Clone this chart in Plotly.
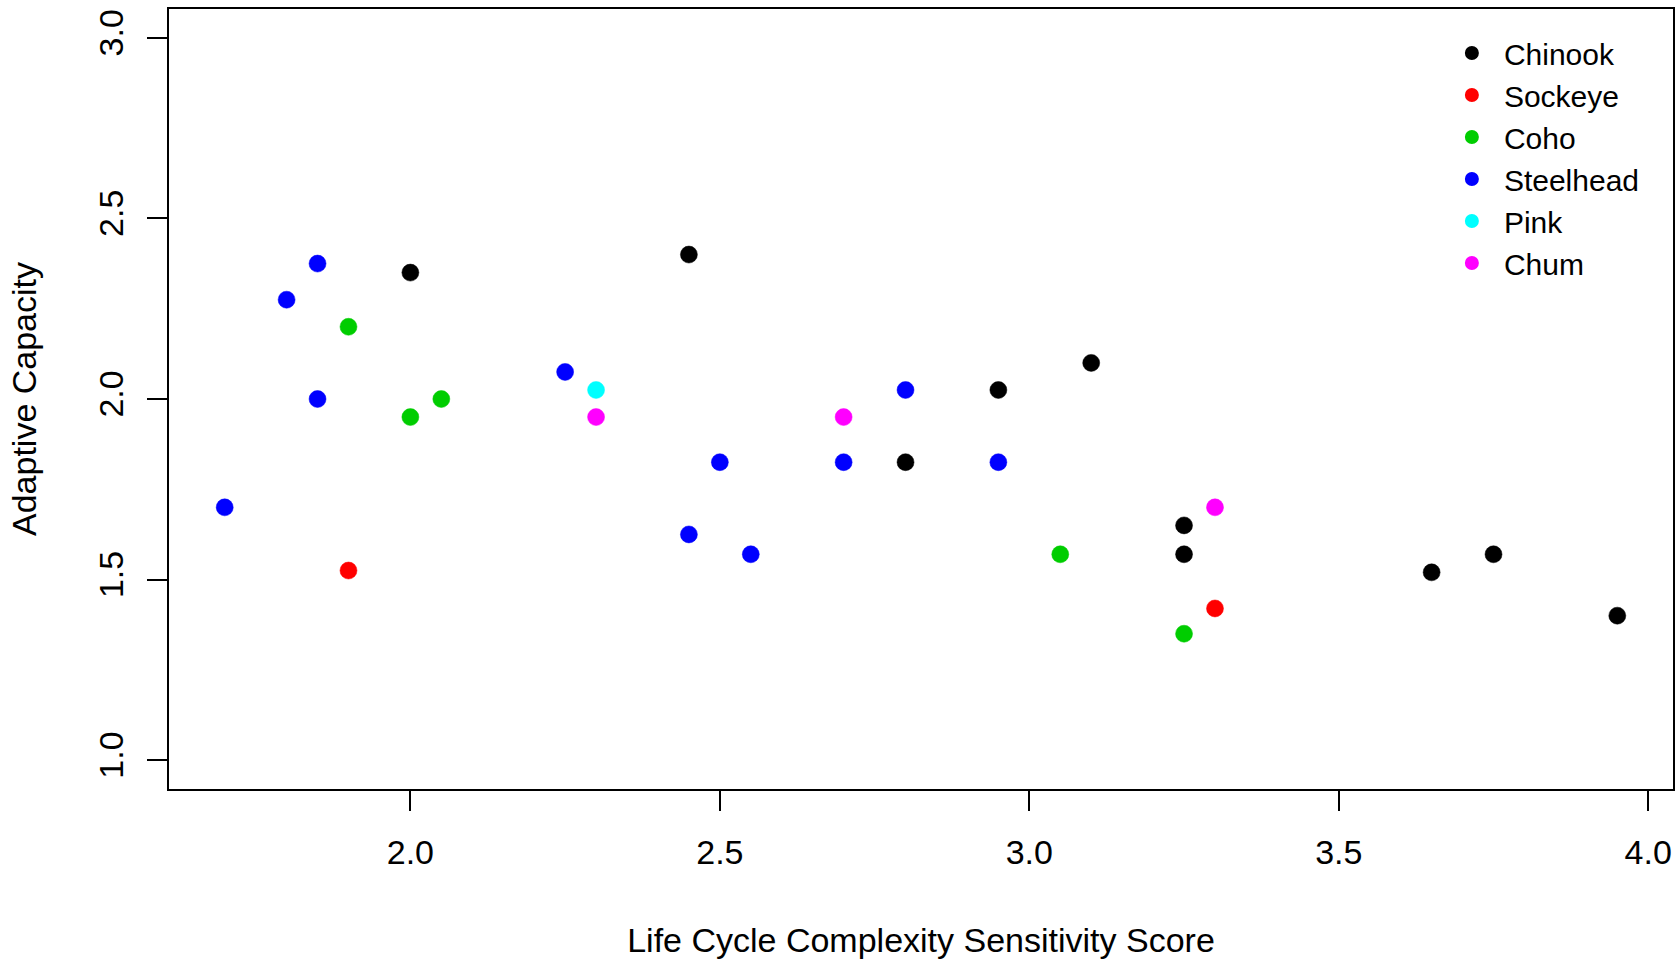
import plotly.graph_objects as go

species = ["Chinook", "Sockeye", "Coho", "Steelhead", "Pink", "Chum"]
colors = ["#000000", "#FF0000", "#00CD00", "#0000FF", "#00FFFF", "#FF00FF"]

chinook_x = [2.00, 2.45, 2.80, 2.95, 3.10, 3.25, 3.25, 3.65, 3.75, 3.95]
chinook_y = [2.35, 2.40, 1.825, 2.025, 2.10, 1.65, 1.57, 1.52, 1.57, 1.40]
sockeye_x = [1.90, 3.30]
sockeye_y = [1.525, 1.42]
coho_x = [1.90, 2.00, 2.05, 3.05, 3.25]
coho_y = [2.20, 1.95, 2.00, 1.57, 1.35]
steelhead_x = [1.70, 1.80, 1.85, 1.85, 2.25, 2.45, 2.50, 2.55, 2.70, 2.80, 2.95]
steelhead_y = [1.70, 2.275, 2.375, 2.00, 2.075, 1.625, 1.825, 1.57, 1.825, 2.025, 1.825]
pink_x = [2.30]
pink_y = [2.025]
chum_x = [2.30, 2.70, 3.30]
chum_y = [1.95, 1.95, 1.70]

xs = [chinook_x, sockeye_x, coho_x, steelhead_x, pink_x, chum_x]
ys = [chinook_y, sockeye_y, coho_y, steelhead_y, pink_y, chum_y]

x_ticks = [2.0, 2.5, 3.0, 3.5, 4.0]
y_ticks = [1.0, 1.5, 2.0, 2.5, 3.0]

FONT = "Liberation Sans, Arial, sans-serif"

fig = go.Figure()
for name, c, x, y in zip(species, colors, xs, ys):
    fig.add_trace(go.Scatter(
        x=x, y=y, mode="markers", name=name,
        marker=dict(color=c, size=17, line=dict(color=c, width=0.5)),
    ))

fig.update_layout(
    width=1678, height=960,
    margin=dict(l=169, r=3, t=9, b=171),
    plot_bgcolor="white", paper_bgcolor="white",
    font=dict(family=FONT, size=34, color="black"),
    showlegend=True,
    legend=dict(
        x=0.845, y=0.977, xanchor="left", yanchor="top",
        bgcolor="rgba(0,0,0,0)", borderwidth=0,
        font=dict(family=FONT, size=30, color="black"),
        itemsizing="constant", itemwidth=54,
    ),
)
fig.update_xaxes(
    range=[1.61, 4.04], tickvals=x_ticks, ticktext=[f"{v:.1f}" for v in x_ticks],
    showgrid=False, zeroline=False, showline=True, linecolor="black", linewidth=2,
    mirror=True, ticks="outside", ticklen=20, tickwidth=1.5, tickcolor="black",
    ticklabelstandoff=12,
    title=dict(text="Life Cycle Complexity Sensitivity Score", standoff=58,
               font=dict(family=FONT, size=34)),
)
fig.update_yaxes(
    range=[0.92, 3.08], tickvals=y_ticks, ticktext=[f"{v:.1f}" for v in y_ticks],
    showgrid=False, zeroline=False, showline=True, linecolor="black", linewidth=2,
    mirror=True, ticks="outside", ticklen=20, tickwidth=1.5, tickcolor="black",
    tickangle=-90, ticklabelstandoff=10,
    title=dict(text="Adaptive Capacity", standoff=46,
               font=dict(family=FONT, size=34)),
)

fig.write_html("out.html")
